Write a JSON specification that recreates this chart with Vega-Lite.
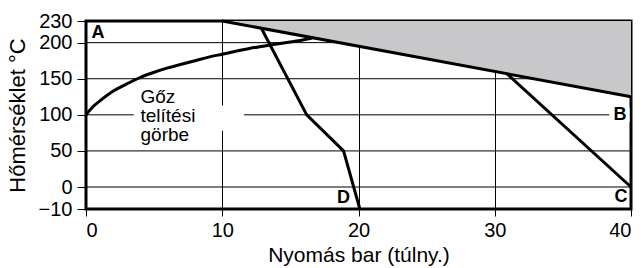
{
  "$schema": "https://vega.github.io/schema/vega-lite/v6.json",
  "width": 545,
  "height": 188,
  "autosize": "none",
  "padding": {"left": 86, "top": 21, "right": 12, "bottom": 59},
  "background": "white",
  "config": {
    "view": {"stroke": "black", "strokeWidth": 3},
    "font": "Liberation Sans",
    "axis": {
      "domain": false,
      "gridColor": "black",
      "gridWidth": 1,
      "gridOpacity": 1,
      "tickColor": "black",
      "tickWidth": 1,
      "labelColor": "black",
      "titleColor": "black",
      "labelFont": "Liberation Sans",
      "titleFont": "Liberation Sans",
      "titleFontWeight": "normal",
      "labelFontSize": 20,
      "titleFontSize": 21,
      "labelOverlap": false
    }
  },
  "datasets": {
    "levels": [
      {"t": 0}, {"t": 50}, {"t": 100}, {"t": 150}, {"t": 200}
    ],
    "masks": [
      {"x": 3.5, "x2": 11.6, "y": 78, "y2": 113},
      {"x": 38.4, "x2": 39.9, "y": 90, "y2": 110}
    ],
    "zone": [
      {"p": 10, "t": 230},
      {"p": 40, "t": 125}
    ],
    "saturation": [
      {"p": 0, "t": 100},
      {"p": 0.5, "t": 111},
      {"p": 1, "t": 119},
      {"p": 2, "t": 133},
      {"p": 3, "t": 143},
      {"p": 4, "t": 152},
      {"p": 5, "t": 159},
      {"p": 6, "t": 165},
      {"p": 7, "t": 170},
      {"p": 8, "t": 175},
      {"p": 9, "t": 180},
      {"p": 10, "t": 184},
      {"p": 11, "t": 188},
      {"p": 12, "t": 192},
      {"p": 13, "t": 195},
      {"p": 14, "t": 198},
      {"p": 15, "t": 201},
      {"p": 16, "t": 204},
      {"p": 16.6, "t": 206.5}
    ],
    "segments": [
      {"series": "határ", "order": 1, "p": 10, "t": 230},
      {"series": "határ", "order": 2, "p": 40, "t": 125},
      {"series": "D", "order": 1, "p": 12.87, "t": 220},
      {"series": "D", "order": 2, "p": 16.2, "t": 100},
      {"series": "D", "order": 3, "p": 18.9, "t": 50},
      {"series": "D", "order": 4, "p": 20.1, "t": -10},
      {"series": "C", "order": 1, "p": 30.9, "t": 156.8},
      {"series": "C", "order": 2, "p": 40, "t": 0}
    ],
    "letters": [
      {"p": 0.88, "t": 213, "label": "A"},
      {"p": 39.19, "t": 100, "label": "B"},
      {"p": 39.26, "t": -4.6, "label": "C"},
      {"p": 18.9, "t": -5.1, "label": "D"}
    ],
    "caption": [
      {"p": 4.0, "t": 116.4, "label": "Gőz"},
      {"p": 4.0, "t": 90.1, "label": "telítési"},
      {"p": 4.0, "t": 63.8, "label": "görbe"}
    ]
  },
  "layer": [
    {
      "data": {"name": "levels"},
      "mark": {"type": "rule", "color": "black", "strokeWidth": 1},
      "encoding": {
        "y": {
          "field": "t", "type": "quantitative",
          "scale": {"domain": [-10, 0, 230], "range": [188, 166, 0], "nice": false, "zero": false},
          "axis": {"values": [-10, 0, 50, 100, 150, 200, 230], "tickCount": 20, "grid": false, "labelOverlap": false, "title": "Hőmérséklet °C", "titleFontSize": 22, "tickSize": 9, "labelPadding": 5, "titlePadding": 9}
        }
      }
    },
    {
      "data": {"name": "masks"},
      "mark": {"type": "rect", "color": "white"},
      "encoding": {
        "x": {
          "field": "x", "type": "quantitative",
          "scale": {"domain": [0, 40], "nice": false, "zero": false},
          "axis": {"values": [0, 10, 20, 30, 40], "tickCount": 20, "grid": true, "title": "Nyomás bar (túlny.)", "tickSize": 7, "labelPadding": 4, "titlePadding": 4}
        },
        "x2": {"field": "x2"},
        "y": {"field": "y", "type": "quantitative"},
        "y2": {"field": "y2"}
      }
    },
    {
      "data": {"name": "zone"},
      "mark": {"type": "area", "color": "#c8c8ca", "opacity": 1},
      "encoding": {
        "x": {"field": "p", "type": "quantitative"},
        "y": {"field": "t", "type": "quantitative"},
        "y2": {"datum": 230}
      }
    },
    {
      "data": {"name": "saturation"},
      "mark": {"type": "line", "color": "black", "strokeWidth": 3, "interpolate": "monotone"},
      "encoding": {
        "x": {"field": "p", "type": "quantitative"},
        "y": {"field": "t", "type": "quantitative"}
      }
    },
    {
      "data": {"name": "segments"},
      "mark": {"type": "line", "color": "black", "strokeWidth": 3},
      "encoding": {
        "x": {"field": "p", "type": "quantitative"},
        "y": {"field": "t", "type": "quantitative"},
        "detail": {"field": "series"},
        "order": {"field": "order", "type": "quantitative"}
      }
    },
    {
      "data": {"name": "letters"},
      "mark": {"type": "text", "font": "Liberation Sans", "fontWeight": "bold", "fontSize": 18, "align": "center", "baseline": "middle", "color": "black"},
      "encoding": {
        "x": {"field": "p", "type": "quantitative"},
        "y": {"field": "t", "type": "quantitative"},
        "text": {"field": "label"}
      }
    },
    {
      "data": {"name": "caption"},
      "mark": {"type": "text", "font": "Liberation Sans", "fontSize": 19, "align": "left", "baseline": "alphabetic", "color": "black"},
      "encoding": {
        "x": {"field": "p", "type": "quantitative"},
        "y": {"field": "t", "type": "quantitative"},
        "text": {"field": "label"}
      }
    }
  ]
}
